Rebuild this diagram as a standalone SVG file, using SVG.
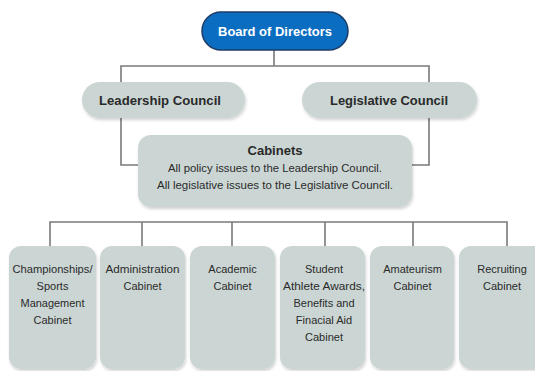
<svg xmlns="http://www.w3.org/2000/svg" width="535" height="371" viewBox="0 0 535 371">
<defs>
<filter id="sh" x="-10%" y="-10%" width="120%" height="130%">
<feDropShadow dx="1" dy="2" stdDeviation="1.5" flood-color="#000" flood-opacity="0.18"/>
</filter>
</defs>
<style>
.box{fill:#cbd6d4;filter:url(#sh)}
.board{fill:#0b6dc0;stroke:#1d3b66;stroke-width:1.5}
.t{font-family:"Liberation Sans",Arial,sans-serif;font-size:11px;fill:#2a2a2a;text-anchor:middle}
.b{font-weight:bold;font-size:12.5px}
.w{fill:#fff}
.c{fill:none;stroke:#7a7a7a;stroke-width:1.6}
</style>
<rect width="535" height="371" fill="#fff"/>
<g id="connectors">
<path class="c" d="M274 50V66M121 82V66H429V82"/>
<path class="c" d="M121 118V165H138M429 118V165H412"/>
<path class="c" d="M50 246V222H507V246M142 222V246M232 222V246M325 222V246M413 222V246"/>
</g>
<g id="board">
<rect class="board" x="202" y="12" width="146" height="38" rx="19"/>
<text class="t b w" x="275" y="35.5" textLength="114" lengthAdjust="spacingAndGlyphs">Board of Directors</text>
</g>
<g id="leadership">
<rect class="box" x="82" y="82" width="163" height="36" rx="18"/>
<text class="t b" x="160" y="104.5" textLength="122" lengthAdjust="spacingAndGlyphs">Leadership Council</text>
</g>
<g id="legislative">
<rect class="box" x="302" y="82" width="175" height="36" rx="18"/>
<text class="t b" x="389" y="104.5" textLength="118" lengthAdjust="spacingAndGlyphs">Legislative Council</text>
</g>
<g id="cabinets">
<rect class="box" x="138" y="135" width="274" height="72" rx="13"/>
<text class="t b" x="275" y="155" font-size="12" textLength="55" lengthAdjust="spacingAndGlyphs">Cabinets</text>
<text class="t" x="275" y="172" textLength="214" lengthAdjust="spacingAndGlyphs">All policy issues to the Leadership Council.</text>
<text class="t" x="275" y="189" textLength="236" lengthAdjust="spacingAndGlyphs">All legislative issues to the Legislative  Council.</text>
</g>
<g id="cab1">
<rect class="box" x="9" y="246" width="87" height="123" rx="12"/>
<text class="t" x="52.5" y="273" textLength="80" lengthAdjust="spacingAndGlyphs">Championships/</text>
<text class="t" x="52.5" y="290">Sports</text>
<text class="t" x="52.5" y="307" textLength="64" lengthAdjust="spacingAndGlyphs">Management</text>
<text class="t" x="52.5" y="324">Cabinet</text>
</g>
<g id="cab2">
<rect class="box" x="100" y="246" width="85" height="123" rx="12"/>
<text class="t" x="142.5" y="273" textLength="74" lengthAdjust="spacingAndGlyphs">Administration</text>
<text class="t" x="142.5" y="290">Cabinet</text>
</g>
<g id="cab3">
<rect class="box" x="190" y="246" width="85" height="123" rx="12"/>
<text class="t" x="232.5" y="273">Academic</text>
<text class="t" x="232.5" y="290">Cabinet</text>
</g>
<g id="cab4">
<rect class="box" x="280" y="246" width="85" height="123" rx="12"/>
<text class="t" x="324" y="273">Student</text>
<text class="t" x="324" y="290" textLength="82" lengthAdjust="spacingAndGlyphs">Athlete Awards,</text>
<text class="t" x="324" y="307">Benefits and</text>
<text class="t" x="324" y="324">Finacial Aid</text>
<text class="t" x="324" y="341">Cabinet</text>
</g>
<g id="cab5">
<rect class="box" x="370" y="246" width="84" height="123" rx="12"/>
<text class="t" x="412.5" y="273">Amateurism</text>
<text class="t" x="412.5" y="290">Cabinet</text>
</g>
<g id="cab6">
<rect class="box" x="459" y="246" width="90" height="123" rx="12"/>
<text class="t" x="502" y="273">Recruiting</text>
<text class="t" x="502" y="290">Cabinet</text>
</g>
</svg>
